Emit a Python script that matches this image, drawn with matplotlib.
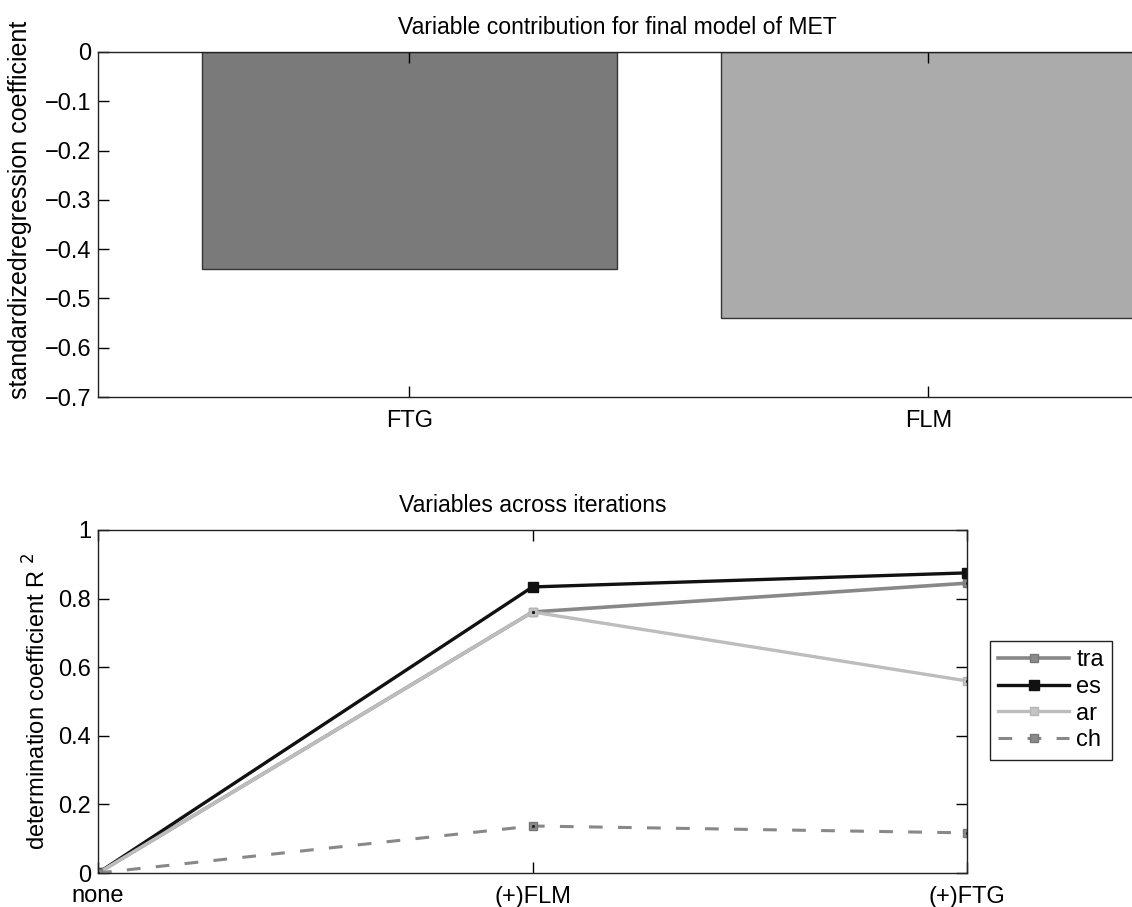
import numpy as np
import matplotlib
matplotlib.use('Agg')
import matplotlib.pyplot as plt

# bar chart data
bar_labels = ['FTG', 'FLM']
bar_values = [-0.44, -0.54]
bar_colors = ['#7a7a7a', '#ababab']

# iteration data
steps = ['none', '(+)FLM', '(+)FTG']
tra = [0.0, 0.761, 0.845]
es = [0.0, 0.834, 0.875]
ar = [0.0, 0.761, 0.560]
ch = [0.0, 0.137, 0.117]

plt.rcParams['font.family'] = ['Liberation Sans', 'DejaVu Sans']
plt.rcParams['font.size'] = 17

fig = plt.figure(figsize=(11.32, 9.07), dpi=100)

# Top: bars
ax1 = fig.add_axes([98 / 1132, 1 - 397 / 907, (1136 - 98) / 1132, 345 / 907])
xb = np.arange(1, len(bar_values) + 1)
ax1.bar(xb, bar_values, width=0.8, color=bar_colors, edgecolor='#333333', linewidth=1.0)
ax1.set_xlim(0.4, 2.4)
ax1.set_ylim(-0.7, 0)
ax1.set_yticks(np.arange(-0.7, 0.01, 0.1))
ax1.set_yticklabels(['\u22120.7', '\u22120.6', '\u22120.5', '\u22120.4', '\u22120.3', '\u22120.2', '\u22120.1', '0'])
ax1.set_xticks(xb)
ax1.set_xticklabels(bar_labels)
ax1.set_ylabel('standardizedregression coefficient', fontsize=18)
ax1.yaxis.set_label_coords(-0.064, 0.542)
ax1.set_title('Variable contribution for final model of MET', pad=13, fontsize=16.6)

# Bottom: lines across iterations
ax2 = fig.add_axes([98 / 1132, 1 - 873 / 907, (967 - 98) / 1132, 343 / 907])
xi = np.arange(len(steps))
ax2.plot(xi, tra, color='#888888', lw=2.6, marker='s', ms=6, mfc='#8a8a8a', mec='#777777', label='tra')
ax2.plot(xi, es, color='#111111', lw=2.4, marker='s', ms=7, mfc='#111111', mec='#111111', label='es')
ax2.plot(xi, ar, color='#bdbdbd', lw=2.4, marker='s', ms=6, mfc='#c4c4c4', mec='#b5b5b5', label='ar')
ax2.plot(xi, ch, color='#888888', lw=2.2, ls=(0, (4.5, 5)), marker='s', ms=6, mfc='#8a8a8a', mec='#777777', label='ch')
for ys in [tra, ar, ch]:
    ax2.plot(xi, ys, ls='none', marker='.', ms=2.5, color='#222222')
ax2.set_xlim(0, 2)
ax2.set_ylim(0, 1)
ax2.set_yticks([0, 0.2, 0.4, 0.6, 0.8, 1])
ax2.set_yticklabels(['0', '0.2', '0.4', '0.6', '0.8', '1'])
ax2.set_xticks(xi)
ax2.set_xticklabels(steps)
ax2.set_ylabel('determination coefficient R $^2$')
ax2.yaxis.set_label_coords(-0.054, 0.5)
ax2.set_title('Variables across iterations', pad=13, fontsize=16.6)
ax2.legend(loc='upper left', bbox_to_anchor=(990 / 1132, 1 - 641 / 907), bbox_transform=fig.transFigure,
           fancybox=False, edgecolor='#222222', framealpha=1, borderpad=0.35, labelspacing=0.2,
           handlelength=3.0, handletextpad=0.3, borderaxespad=0, fontsize=17)

for ax in (ax1, ax2):
    ax.tick_params(direction='in', length=8, width=1, top=True, right=True, pad=5)
    ax.tick_params(axis='x', pad=9)
    for s in ax.spines.values():
        s.set_linewidth(1.0)
        s.set_color('#222222')
ax1.tick_params(right=False)

fig.savefig('out.png', dpi=100)
